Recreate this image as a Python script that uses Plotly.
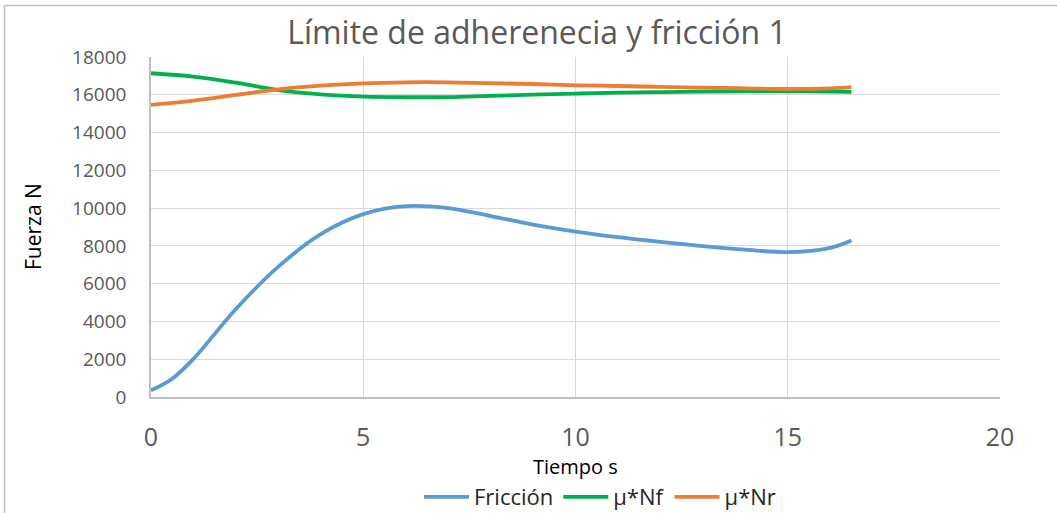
import plotly.graph_objects as go

tiempo_friccion = [0, 0.5, 1, 2, 3, 4, 5, 6, 7, 8, 9, 10, 11, 12, 13, 14, 15, 16, 16.5]
friccion = [350, 970, 2020, 4660, 6900, 8620, 9680, 10100, 10000, 9580, 9130, 8760, 8460, 8210, 7990, 7800, 7670, 7900, 8290]

tiempo = [0, 1, 2, 3, 4, 5, 6, 7, 8, 9, 10, 11, 12, 13, 14, 15, 16, 16.5]
mu_nf = [17140, 16960, 16640, 16250, 16020, 15900, 15870, 15880, 15945, 16005, 16060, 16110, 16145, 16165, 16180, 16180, 16165, 16150]
mu_nr = [15460, 15690, 15990, 16290, 16480, 16605, 16660, 16660, 16615, 16570, 16500, 16465, 16415, 16375, 16340, 16305, 16340, 16400]

x_ticks = [0, 5, 10, 15, 20]
y_ticks = [0, 2000, 4000, 6000, 8000, 10000, 12000, 14000, 16000, 18000]

FONT = "Open Sans, sans-serif"
GREY = "#595959"

fig = go.Figure()
fig.add_trace(go.Scatter(x=tiempo_friccion, y=friccion, mode="lines", name="Fricción",
                         line=dict(color="#5B9BD5", width=3.8, shape="spline", smoothing=1.0)))
fig.add_trace(go.Scatter(x=tiempo, y=mu_nf, mode="lines", name="μ*Nf",
                         line=dict(color="#00B050", width=3.8, shape="spline", smoothing=1.0)))
fig.add_trace(go.Scatter(x=tiempo, y=mu_nr, mode="lines", name="μ*Nr",
                         line=dict(color="#ED7D31", width=3.8, shape="spline", smoothing=1.0)))

L, R, T, B = 151, 1000, 57, 397
W, H = 1057, 513
pw, ph = R - L, B - T

def px(xp):
    return (xp - L) / pw

def py(yp):
    return (B - yp) / ph

fig.update_layout(
    width=W, height=H,
    margin=dict(l=L, r=W - R, t=T, b=H - B, pad=0, autoexpand=False),
    paper_bgcolor="white", plot_bgcolor="white",
    font=dict(family=FONT, color=GREY),
    title=dict(text="Límite de adherenecia y fricción 1", x=537 / W, xanchor="center",
               y=1 - 33 / H, yanchor="middle", xref="container",
               font=dict(size=32, color=GREY, family=FONT)),
    showlegend=True,
    legend=dict(orientation="h", x=px(600), xanchor="center", y=py(497), yanchor="middle",
                font=dict(size=22, color="#262626", family=FONT), itemwidth=45,
                tracegroupgap=0, bgcolor="rgba(0,0,0,0)"),
    xaxis=dict(range=[0, 20], tickvals=x_ticks, showgrid=True, gridcolor="#d9d9d9", gridwidth=1,
               showline=True, linecolor="#bfbfbf", linewidth=1.5, zeroline=False, automargin=False,
               ticks="", tickfont=dict(size=25, color=GREY, family=FONT), ticklabelstandoff=17),
    yaxis=dict(range=[0, 18000], tickvals=y_ticks, tickformat="d", showgrid=True, gridcolor="#d9d9d9",
               gridwidth=1, showline=True, linecolor="#bfbfbf", linewidth=1.5, zeroline=False,
               automargin=False,
               ticks="", tickfont=dict(size=19, color=GREY, family=FONT), ticklabelstandoff=19),
    annotations=[
        dict(text="Tiempo s", x=px(575), y=py(466), xref="paper", yref="paper", showarrow=False,
             xanchor="center", yanchor="middle", font=dict(size=20, color="#000000", family=FONT)),
        dict(text="Fuerza N", x=px(33), y=py(227), xref="paper", yref="paper", showarrow=False,
             textangle=-90, xanchor="center", yanchor="middle",
             font=dict(size=21, color="#000000", family=FONT)),
    ],
    shapes=[
        dict(type="line", xref="paper", yref="paper", x0=px(4.5), x1=px(1100), y0=py(5.5), y1=py(5.5),
             line=dict(color="#bfbfbf", width=1.5)),
        dict(type="line", xref="paper", yref="paper", x0=px(4.5), x1=px(4.5), y0=py(5.5), y1=py(600),
             line=dict(color="#bfbfbf", width=1.5)),
    ],
)

fig.write_html("out.html")
